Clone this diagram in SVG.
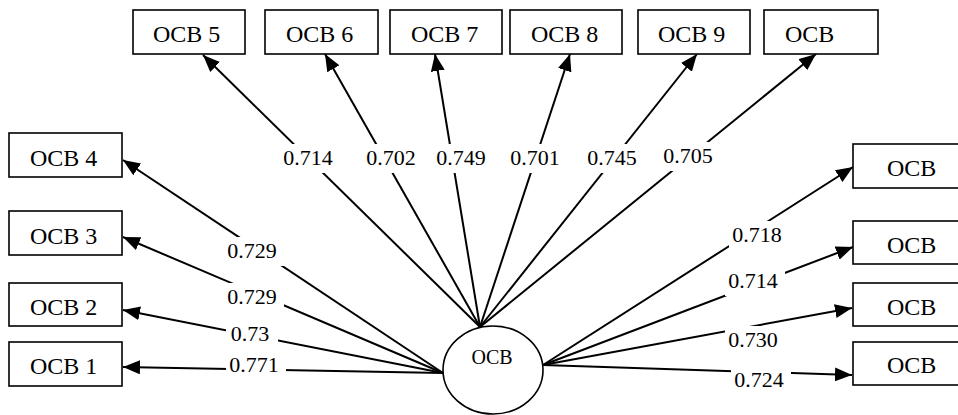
<svg xmlns="http://www.w3.org/2000/svg" width="958" height="415" viewBox="0 0 958 415">
<defs>
<style>
.box{fill:#fff;stroke:#000;stroke-width:1.6}
.bt{font-family:"Liberation Serif","Times New Roman",serif;font-size:24px;fill:#000}
.lt{font-family:"Liberation Serif","Times New Roman",serif;font-size:22px;fill:#000;text-anchor:middle}
.ln{stroke:#000;stroke-width:2;fill:none;marker-end:url(#ah)}
.bg{fill:#fff}
</style>
<marker id="ah" markerUnits="userSpaceOnUse" markerWidth="18" markerHeight="14" refX="17" refY="7" orient="auto">
<path d="M0,0 L17,7 L0,14 Z" fill="#000"/>
</marker>
</defs>
<rect width="958" height="415" fill="#fff"/>
<g id="connectors">
<line class="ln" x1="443" y1="373" x2="123" y2="367"/>
<line class="ln" x1="443" y1="373" x2="123" y2="310"/>
<line class="ln" x1="443" y1="373" x2="123" y2="237"/>
<line class="ln" x1="443" y1="373" x2="123" y2="160"/>
<line class="ln" x1="480" y1="327" x2="203" y2="55"/>
<line class="ln" x1="480" y1="327" x2="325" y2="54"/>
<line class="ln" x1="480" y1="327" x2="435" y2="54"/>
<line class="ln" x1="480" y1="327" x2="570" y2="54"/>
<line class="ln" x1="480" y1="327" x2="697" y2="54"/>
<line class="ln" x1="480" y1="327" x2="816" y2="54"/>
<line class="ln" x1="543" y1="365" x2="853" y2="167"/>
<line class="ln" x1="543" y1="365" x2="853" y2="247"/>
<line class="ln" x1="543" y1="365" x2="852" y2="308"/>
<line class="ln" x1="543" y1="365" x2="852" y2="375"/>
<g id="labels">
<rect class="bg" x="280" y="144" width="60" height="29"/><text class="lt" x="308" y="165">0.714</text>
<rect class="bg" x="363" y="144" width="60" height="29"/><text class="lt" x="391" y="165">0.702</text>
<rect class="bg" x="433" y="144" width="60" height="29"/><text class="lt" x="461" y="165">0.749</text>
<rect class="bg" x="507" y="144" width="60" height="29"/><text class="lt" x="535" y="165">0.701</text>
<rect class="bg" x="584" y="144" width="60" height="29"/><text class="lt" x="612" y="165">0.745</text>
<rect class="bg" x="660" y="142" width="60" height="29"/><text class="lt" x="688" y="163">0.705</text>
<rect class="bg" x="224" y="237" width="60" height="29"/><text class="lt" x="252" y="258">0.729</text>
<rect class="bg" x="224" y="283" width="60" height="29"/><text class="lt" x="252" y="304">0.729</text>
<rect class="bg" x="226" y="320" width="52" height="29"/><text class="lt" x="250" y="341">0.73</text>
<rect class="bg" x="226" y="351" width="60" height="29"/><text class="lt" x="254" y="372">0.771</text>
<rect class="bg" x="729" y="221" width="60" height="29"/><text class="lt" x="757" y="242">0.718</text>
<rect class="bg" x="725" y="267" width="60" height="29"/><text class="lt" x="753" y="288">0.714</text>
<rect class="bg" x="725" y="326" width="60" height="29"/><text class="lt" x="753" y="347">0.730</text>
<rect class="bg" x="731" y="366" width="60" height="29"/><text class="lt" x="759" y="387">0.724</text>
</g>
</g>
<g id="ocb5"><rect class="box" x="133" y="10" width="112" height="44"/><text class="bt" x="153" y="42">OCB 5</text></g>
<g id="ocb6"><rect class="box" x="265" y="10" width="113" height="44"/><text class="bt" x="286" y="42">OCB 6</text></g>
<g id="ocb7"><rect class="box" x="390" y="10" width="112" height="44"/><text class="bt" x="411" y="42">OCB 7</text></g>
<g id="ocb8"><rect class="box" x="510" y="10" width="112" height="44"/><text class="bt" x="531" y="42">OCB 8</text></g>
<g id="ocb9"><rect class="box" x="638" y="10" width="112" height="44"/><text class="bt" x="658" y="42">OCB 9</text></g>
<g id="ocb10"><rect class="box" x="764" y="10" width="114" height="44"/><text class="bt" x="785" y="42">OCB</text></g>
<g id="ocb4"><rect class="box" x="9" y="133" width="113" height="44"/><text class="bt" x="30" y="166">OCB 4</text></g>
<g id="ocb3"><rect class="box" x="9" y="211" width="113" height="44"/><text class="bt" x="30" y="244">OCB 3</text></g>
<g id="ocb2"><rect class="box" x="9" y="283" width="113" height="43"/><text class="bt" x="30" y="315">OCB 2</text></g>
<g id="ocb1"><rect class="box" x="9" y="342" width="113" height="44"/><text class="bt" x="30" y="374">OCB 1</text></g>
<g id="ocb11"><rect class="box" x="853" y="144" width="113" height="44"/><text class="bt" x="887" y="176">OCB</text></g>
<g id="ocb12"><rect class="box" x="853" y="221" width="113" height="43"/><text class="bt" x="887" y="253">OCB</text></g>
<g id="ocb13"><rect class="box" x="853" y="283" width="113" height="43"/><text class="bt" x="887" y="315">OCB</text></g>
<g id="ocb14"><rect class="box" x="853" y="342" width="113" height="43"/><text class="bt" x="887" y="373">OCB</text></g>
<g id="ocb-latent"><ellipse cx="493" cy="370" rx="50" ry="44" fill="#fff" stroke="#000" stroke-width="1.6"/><text x="492" y="364" text-anchor="middle" font-family="'Liberation Serif','Times New Roman',serif" font-size="20">OCB</text></g>
</svg>
